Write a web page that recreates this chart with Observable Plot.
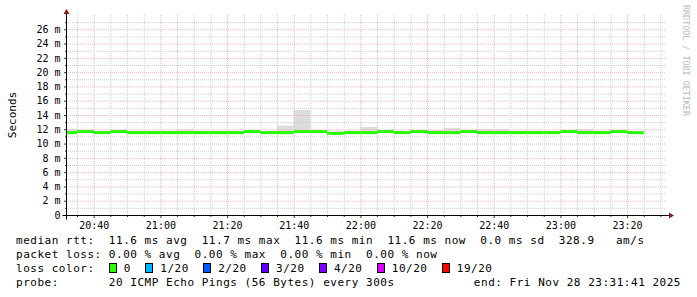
<!DOCTYPE html>
<html><head><meta charset="utf-8">
<script src="https://cdn.jsdelivr.net/npm/d3@7"></script>
<script src="https://cdn.jsdelivr.net/npm/@observablehq/plot@0.6"></script>
<style>
html,body{margin:0;padding:0;background:#fff;}
body{width:697px;height:297px;overflow:hidden;}
#chart svg{display:block;}
#legend{font-family:"DejaVu Sans Mono",monospace;font-size:11px;letter-spacing:0.52px;line-height:14px;padding:2px 0 0 16px;white-space:pre;color:#000;}
#legend .row{height:14px;position:relative;}
#legend .box{display:inline-block;box-sizing:border-box;width:8px;height:10px;border:1px solid #000;margin-right:7px;vertical-align:-1px;}
#legend .right{position:absolute;right:16px;top:0;}
</style></head>
<body><div id="chart"></div><div id="legend"></div>
<script>
// ---- data (5-minute steps, start times) ----
const stepTimes = ["20:30","20:35","20:40","20:45","20:50","20:55","21:00","21:05","21:10","21:15",
  "21:20","21:25","21:30","21:35","21:40","21:45","21:50","21:55","22:00","22:05",
  "22:10","22:15","22:20","22:25","22:30","22:35","22:40","22:45","22:50","22:55",
  "23:00","23:05","23:10","23:15","23:20"];
const medianMs = [11.6,11.75,11.6,11.75,11.6,11.6,11.6,11.6,11.6,11.6,
  11.6,11.75,11.6,11.6,11.75,11.75,11.5,11.6,11.6,11.75,
  11.6,11.75,11.6,11.6,11.75,11.6,11.6,11.6,11.6,11.6,
  11.75,11.6,11.6,11.75,11.6];
const smokeLoMs = [11.5,11.55,11.5,11.55,11.5,11.5,11.5,11.35,11.5,11.3,
  11.5,11.55,11.5,11.5,11.55,11.55,11.3,11.4,11.35,11.55,
  11.5,11.55,11.5,11.5,11.55,11.4,11.4,11.5,11.35,11.35,
  11.55,11.5,11.5,11.55,11.5];
const smokeHiMs = [12.05,11.85,11.7,11.85,11.7,11.7,11.7,11.95,11.7,11.7,
  11.7,11.85,11.7,12.5,14.7,11.85,11.7,11.7,12.35,11.85,
  11.7,11.85,11.9,12.2,11.85,12.0,12.0,11.7,11.7,11.7,
  11.85,12.0,11.7,11.85,11.7];
const yTicks = [0,2,4,6,8,10,12,14,16,18,20,22,24,26];
const yMinorGrid = [1,3,5,7,9,11,13,15,17,19,21,23,25,27];
const xTickLabels = ["20:40","21:00","21:20","21:40","22:00","22:20","22:40","23:00","23:20"];
const windowStart = "20:31:41", windowEnd = "23:31:41";
const yAxisTitle = "Seconds";
const watermark = "RRDTOOL / TOBI OETIKER";
const rttStats = "median rtt:  11.6 ms avg  11.7 ms max  11.6 ms min  11.6 ms now  0.0 ms sd  328.9   am/s";
const lossStats = "packet loss: 0.00 % avg  0.00 % max  0.00 % min  0.00 % now";
const lossLabels = ["0","1/20","2/20","3/20","4/20","10/20","19/20"];
const lossColors = ["#26ff00","#00b8ff","#0059ff","#5e00ff","#7e00ff","#dd00ff","#ff0000"];
const probeText = "probe:       20 ICMP Echo Pings (56 Bytes) every 300s";
const endText = "end: Fri Nov 28 23:31:41 2025";

// ---- helpers ----
const t = s => { const [h,m,sec] = s.split(":").map(Number); return new Date(Date.UTC(2025,10,28,h,m,sec||0)); };
const x0 = t(windowStart), x1 = t(windowEnd);
const data = stepTimes.map((s,i) => ({start:t(s), end:new Date(+t(s)+300000), med:medianMs[i], lo:smokeLoMs[i], hi:smokeHiMs[i]}));
const majorX = xTickLabels.map(t);
const minorX = d3.utcMinute.every(5).range(x0, x1).filter(d => d.getUTCMinutes() % 20 !== 0);
const minorGray = "#cccccc", majorPink = "#efb6b6";

const plot = Plot.plot({
  width:697, height:232, marginLeft:66, marginRight:31, marginTop:15, marginBottom:17,
  style:{fontFamily:"DejaVu Sans Mono", fontSize:"10px", background:"white", color:"#000"},
  x:{type:"utc", domain:[x0,x1]},
  y:{domain:[0,28]},
  marks:[
    Plot.rect(data,{x1:"start",x2:"end",y1:"lo",y2:"hi",fill:"#dcdcdc",clip:true}),
    Plot.ruleX(minorX,{stroke:minorGray,strokeDasharray:"1,1"}),
    Plot.ruleX(majorX,{stroke:majorPink,strokeDasharray:"1,1"}),
    Plot.ruleY(yMinorGrid,{stroke:minorGray,strokeDasharray:"1,1"}),
    Plot.ruleY(yTicks.filter(d=>d>0),{stroke:majorPink,strokeDasharray:"1,1"}),
    Plot.ruleY(data,{y:"med",x1:"start",x2:"end",stroke:"#26ff00",strokeWidth:3,clip:true}),
    Plot.axisX({ticks:majorX,tickFormat:d3.utcFormat("%H:%M"),tickSize:3,tickPadding:3,stroke:"#333"}),
    Plot.axisX({ticks:minorX,tickFormat:()=>"",tickSize:2,stroke:"#333"}),
    Plot.axisY({ticks:yTicks,tickFormat:d=>d===0?"0":`${d} m`,tickSize:2,tickPadding:4,stroke:"#333"}),
    Plot.axisY({ticks:yMinorGrid,tickFormat:()=>"",tickSize:1,stroke:"#333"})
  ]
});
document.getElementById("chart").appendChild(plot);

// axis lines, arrows, titles
const sx = plot.scale("x"), sy = plot.scale("y");
const ax = Math.round(sx.apply(x0)) + 0.5, ay = Math.round(sy.apply(0)) + 0.5;
const axRight = sx.apply(x1), ayTop = sy.apply(28);
const svg = d3.select(plot);
const g = svg.append("g");
g.append("line").attr("x1",ax-4).attr("x2",axRight+5).attr("y1",ay).attr("y2",ay).attr("stroke","#000");
g.append("line").attr("x1",ax).attr("x2",ax).attr("y1",ay+4).attr("y2",ayTop-3).attr("stroke","#000");
g.append("path").attr("d",`M${axRight+3},${ay-3}L${axRight+8},${ay}L${axRight+3},${ay+3}Z`).attr("fill","#8b1a1a");
g.append("path").attr("d",`M${ax-3},${ayTop-1}L${ax},${ayTop-6}L${ax+3},${ayTop-1}Z`).attr("fill","#8b1a1a");
g.append("text").attr("transform",`translate(15.5,${(sy.apply(0)+sy.apply(28))/2}) rotate(-90)`)
  .attr("text-anchor","middle").attr("font-family","DejaVu Sans Mono").attr("font-size",11).attr("fill","#000").text(yAxisTitle);
g.append("text").attr("transform","translate(683,5) rotate(90)").attr("text-anchor","start")
  .attr("font-family","DejaVu Sans Mono").attr("font-size",8.4).attr("fill","#bbbbbb").text(watermark);

// legend
const leg = document.getElementById("legend");
const row = () => { const r = document.createElement("div"); r.className = "row"; leg.appendChild(r); return r; };
row().textContent = rttStats;
row().textContent = lossStats;
const r3 = row();
r3.appendChild(document.createTextNode("loss color:  "));
lossLabels.forEach((lab,i) => {
  const b = document.createElement("span"); b.className = "box"; b.style.background = lossColors[i]; r3.appendChild(b);
  r3.appendChild(document.createTextNode(lab + "  "));
});
const r4 = row();
r4.appendChild(document.createTextNode(probeText));
const rt = document.createElement("span"); rt.className = "right"; rt.textContent = endText; r4.appendChild(rt);
</script>
</body></html>
